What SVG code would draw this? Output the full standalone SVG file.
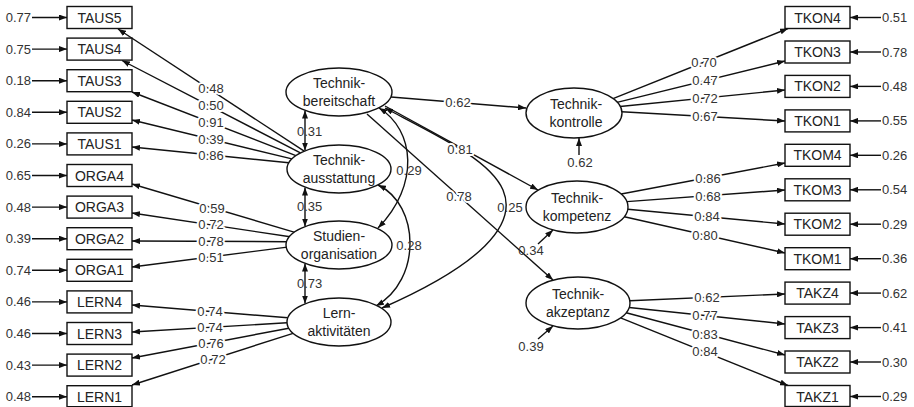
<svg xmlns="http://www.w3.org/2000/svg" width="914" height="407" viewBox="0 0 914 407">
<style>
.ln{fill:none;stroke:#111;stroke-width:1.4}
.a{marker-end:url(#ah)}
.b{marker-start:url(#ah);marker-end:url(#ah)}
.box{fill:#fff;stroke:#111;stroke-width:1.4}
.lat{fill:#fff;stroke:#111;stroke-width:1.4}
.t{font-family:"Liberation Sans",Arial,sans-serif;font-size:14px;fill:#222;text-anchor:middle}
.n{font-family:"Liberation Sans",Arial,sans-serif;font-size:13px;fill:#333}
.h{paint-order:stroke;stroke:#fff;stroke-width:4px;stroke-linejoin:round;text-anchor:middle}
.m{text-anchor:middle}
.e{text-anchor:end}
</style>
<defs>
<marker id="ah" viewBox="0 0 8 6" refX="8" refY="3" markerWidth="8" markerHeight="6" markerUnits="userSpaceOnUse" orient="auto-start-reverse">
<path d="M0,0 L8,3 L0,6 z" fill="#111"/>
</marker>
</defs>
<rect width="914" height="407" fill="#fff"/>

<g id="connectors">
<!-- left error arrows -->
<line class="ln a" x1="32" y1="17.5" x2="67" y2="17.5"/>
<line class="ln a" x1="32" y1="49.1" x2="67" y2="49.1"/>
<line class="ln a" x1="32" y1="80.7" x2="67" y2="80.7"/>
<line class="ln a" x1="32" y1="112.3" x2="67" y2="112.3"/>
<line class="ln a" x1="32" y1="143.9" x2="67" y2="143.9"/>
<line class="ln a" x1="32" y1="175.5" x2="67" y2="175.5"/>
<line class="ln a" x1="32" y1="207.1" x2="67" y2="207.1"/>
<line class="ln a" x1="32" y1="238.7" x2="67" y2="238.7"/>
<line class="ln a" x1="32" y1="270.3" x2="67" y2="270.3"/>
<line class="ln a" x1="32" y1="301.9" x2="67" y2="301.9"/>
<line class="ln a" x1="32" y1="333.5" x2="67" y2="333.5"/>
<line class="ln a" x1="32" y1="365.1" x2="67" y2="365.1"/>
<line class="ln a" x1="32" y1="396.7" x2="67" y2="396.7"/>
<!-- right error arrows -->
<line class="ln a" x1="881" y1="17.5" x2="850" y2="17.5"/>
<line class="ln a" x1="881" y1="52" x2="850" y2="52"/>
<line class="ln a" x1="881" y1="86.4" x2="850" y2="86.4"/>
<line class="ln a" x1="881" y1="120.9" x2="850" y2="120.9"/>
<line class="ln a" x1="881" y1="155.3" x2="850" y2="155.3"/>
<line class="ln a" x1="881" y1="189.8" x2="850" y2="189.8"/>
<line class="ln a" x1="881" y1="224.2" x2="850" y2="224.2"/>
<line class="ln a" x1="881" y1="258.7" x2="850" y2="258.7"/>
<line class="ln a" x1="881" y1="293.1" x2="850" y2="293.1"/>
<line class="ln a" x1="881" y1="327.6" x2="850" y2="327.6"/>
<line class="ln a" x1="881" y1="362" x2="850" y2="362"/>
<line class="ln a" x1="881" y1="396.5" x2="850" y2="396.5"/>
<!-- left loadings -->
<line class="ln a" x1="304.2" y1="151.2" x2="118" y2="29"/>
<line class="ln a" x1="300.4" y1="152.9" x2="122" y2="60.5"/>
<line class="ln a" x1="295.9" y1="155.6" x2="132" y2="92"/>
<line class="ln a" x1="291.9" y1="158.9" x2="132" y2="120"/>
<line class="ln a" x1="288.8" y1="162.8" x2="132" y2="147"/>
<line class="ln a" x1="294.9" y1="232.3" x2="132" y2="184"/>
<line class="ln a" x1="290.1" y1="236.8" x2="132" y2="213"/>
<line class="ln a" x1="287.5" y1="241.7" x2="132" y2="241"/>
<line class="ln a" x1="287.2" y1="247.1" x2="132" y2="267"/>
<line class="ln a" x1="287.8" y1="317.8" x2="132" y2="305"/>
<line class="ln a" x1="287" y1="322.8" x2="132" y2="332"/>
<line class="ln a" x1="288.8" y1="328.2" x2="132" y2="358"/>
<line class="ln a" x1="293.1" y1="333.3" x2="132" y2="385"/>
<!-- right loadings -->
<line class="ln a" x1="613" y1="98.7" x2="788" y2="28.5"/>
<line class="ln a" x1="617" y1="102.4" x2="785" y2="61"/>
<line class="ln a" x1="620" y1="106.5" x2="785" y2="90"/>
<line class="ln a" x1="621.5" y1="111.7" x2="785" y2="121"/>
<line class="ln a" x1="621.2" y1="194" x2="785" y2="163"/>
<line class="ln a" x1="626.9" y1="201.6" x2="785" y2="190"/>
<line class="ln a" x1="627.8" y1="209.3" x2="785" y2="224"/>
<line class="ln a" x1="624.3" y1="216.7" x2="785" y2="253"/>
<line class="ln a" x1="629.8" y1="300.7" x2="785" y2="294"/>
<line class="ln a" x1="629.2" y1="307.5" x2="785" y2="324"/>
<line class="ln a" x1="626.2" y1="312.7" x2="785" y2="355"/>
<line class="ln a" x1="620.6" y1="317.9" x2="788" y2="385.5"/>
<!-- covariances -->
<line class="ln b" x1="305" y1="110.5" x2="305" y2="150.5"/>
<line class="ln b" x1="305" y1="187.5" x2="305" y2="226.5"/>
<line class="ln b" x1="305" y1="263.5" x2="305" y2="303.5"/>
<path class="ln b" d="M379,108 C415,130 420,185 378,228"/>
<path class="ln b" d="M378,185 C420,205 422,280 376,306"/>
<path class="ln b" d="M385,108 C440,137 490,160 503,190 C518,225 480,265 382,308"/>
<!-- structural paths -->
<line class="ln a" x1="391" y1="97" x2="526" y2="108"/>
<line class="ln a" x1="385" y1="106" x2="538" y2="190"/>
<line class="ln a" x1="367" y1="114" x2="553" y2="280"/>
<!-- disturbances -->
<line class="ln a" x1="579" y1="155" x2="579" y2="138"/>
<line class="ln a" x1="538" y1="244" x2="553" y2="230"/>
<line class="ln a" x1="538" y1="339" x2="553" y2="326"/>

<!-- labels -->
<text class="n e" x="31" y="22">0.77</text>
<text class="n e" x="31" y="53.6">0.75</text>
<text class="n e" x="31" y="85.2">0.18</text>
<text class="n e" x="31" y="116.8">0.84</text>
<text class="n e" x="31" y="148.4">0.26</text>
<text class="n e" x="31" y="180">0.65</text>
<text class="n e" x="31" y="211.6">0.48</text>
<text class="n e" x="31" y="243.2">0.39</text>
<text class="n e" x="31" y="274.8">0.74</text>
<text class="n e" x="31" y="306.4">0.46</text>
<text class="n e" x="31" y="338">0.46</text>
<text class="n e" x="31" y="369.6">0.43</text>
<text class="n e" x="31" y="401.2">0.48</text>
<text class="n" x="882" y="22">0.51</text>
<text class="n" x="882" y="56.5">0.78</text>
<text class="n" x="882" y="90.9">0.48</text>
<text class="n" x="882" y="125.4">0.55</text>
<text class="n" x="882" y="159.8">0.26</text>
<text class="n" x="882" y="194.3">0.54</text>
<text class="n" x="882" y="228.7">0.29</text>
<text class="n" x="882" y="263.2">0.36</text>
<text class="n" x="882" y="297.6">0.62</text>
<text class="n" x="882" y="332.1">0.41</text>
<text class="n" x="882" y="366.5">0.30</text>
<text class="n" x="882" y="401">0.29</text>
<text class="n h" x="211" y="93">0.48</text>
<text class="n h" x="211" y="110">0.50</text>
<text class="n h" x="211" y="127">0.91</text>
<text class="n h" x="211" y="143.5">0.39</text>
<text class="n h" x="211" y="159.5">0.86</text>
<text class="n h" x="212" y="212.5">0.59</text>
<text class="n h" x="211" y="229">0.72</text>
<text class="n h" x="211" y="245.8">0.78</text>
<text class="n h" x="211" y="261.5">0.51</text>
<text class="n h" x="210" y="316">0.74</text>
<text class="n h" x="210" y="332">0.74</text>
<text class="n h" x="211" y="347.8">0.76</text>
<text class="n h" x="213" y="364">0.72</text>
<text class="n h" x="704" y="66.5">0.70</text>
<text class="n h" x="705" y="85">0.47</text>
<text class="n h" x="705" y="102.5">0.72</text>
<text class="n h" x="705" y="121">0.67</text>
<text class="n h" x="708" y="183">0.86</text>
<text class="n h" x="708" y="200.5">0.68</text>
<text class="n h" x="707" y="221">0.84</text>
<text class="n h" x="705" y="239.5">0.80</text>
<text class="n h" x="707" y="302">0.62</text>
<text class="n h" x="705" y="320">0.77</text>
<text class="n h" x="705" y="338.5">0.83</text>
<text class="n h" x="705" y="356">0.84</text>
<text class="n h" x="458" y="107">0.62</text>
<text class="n h" x="460" y="154">0.81</text>
<text class="n h" x="459" y="201">0.78</text>
<text class="n m" x="580" y="167">0.62</text>
<text class="n m" x="531" y="255">0.34</text>
<text class="n m" x="531" y="351">0.39</text>
<text class="n" x="297" y="136">0.31</text>
<text class="n" x="297" y="211">0.35</text>
<text class="n" x="297" y="288">0.73</text>
<text class="n m" x="409" y="175">0.29</text>
<text class="n m" x="409" y="250">0.28</text>
<text class="n m" x="510" y="212">0.25</text>
</g>

<!-- latent variables -->
<g id="technik-bereitschaft"><ellipse class="lat" cx="339" cy="92" rx="53" ry="24"/><text class="t" x="339" y="88">Technik-</text><text class="t" x="339" y="105.5">bereitschaft</text></g>
<g id="technik-ausstattung"><ellipse class="lat" cx="339" cy="169" rx="52" ry="24"/><text class="t" x="339" y="165">Technik-</text><text class="t" x="339" y="182.5">ausstattung</text></g>
<g id="studienorganisation"><ellipse class="lat" cx="339" cy="245" rx="53" ry="24"/><text class="t" x="339" y="241">Studien-</text><text class="t" x="339" y="258.5">organisation</text></g>
<g id="lernaktivitaeten"><ellipse class="lat" cx="339" cy="322" rx="52" ry="24"/><text class="t" x="339" y="318">Lern-</text><text class="t" x="339" y="335.5">aktivitäten</text></g>
<g id="technik-kontrolle"><ellipse class="lat" cx="574" cy="113" rx="48" ry="25"/><text class="t" x="576" y="109">Technik-</text><text class="t" x="576" y="126.5">kontrolle</text></g>
<g id="technik-kompetenz"><ellipse class="lat" cx="577" cy="207" rx="51" ry="26"/><text class="t" x="577" y="203">Technik-</text><text class="t" x="577" y="220.5">kompetenz</text></g>
<g id="technik-akzeptanz"><ellipse class="lat" cx="578" cy="303" rx="52" ry="26"/><text class="t" x="578" y="299">Technik-</text><text class="t" x="578" y="316.5">akzeptanz</text></g>

<!-- left indicators -->
<g id="TAUS5"><rect class="box" x="67" y="6.5" width="65" height="22"/><text class="t" x="99.5" y="22.5">TAUS5</text></g>
<g id="TAUS4"><rect class="box" x="67" y="38.1" width="65" height="22"/><text class="t" x="99.5" y="54.1">TAUS4</text></g>
<g id="TAUS3"><rect class="box" x="67" y="69.7" width="65" height="22"/><text class="t" x="99.5" y="85.7">TAUS3</text></g>
<g id="TAUS2"><rect class="box" x="67" y="101.3" width="65" height="22"/><text class="t" x="99.5" y="117.3">TAUS2</text></g>
<g id="TAUS1"><rect class="box" x="67" y="132.9" width="65" height="22"/><text class="t" x="99.5" y="148.9">TAUS1</text></g>
<g id="ORGA4"><rect class="box" x="67" y="164.5" width="65" height="22"/><text class="t" x="99.5" y="180.5">ORGA4</text></g>
<g id="ORGA3"><rect class="box" x="67" y="196.1" width="65" height="22"/><text class="t" x="99.5" y="212.1">ORGA3</text></g>
<g id="ORGA2"><rect class="box" x="67" y="227.7" width="65" height="22"/><text class="t" x="99.5" y="243.7">ORGA2</text></g>
<g id="ORGA1"><rect class="box" x="67" y="259.3" width="65" height="22"/><text class="t" x="99.5" y="275.3">ORGA1</text></g>
<g id="LERN4"><rect class="box" x="67" y="290.9" width="65" height="22"/><text class="t" x="99.5" y="306.9">LERN4</text></g>
<g id="LERN3"><rect class="box" x="67" y="322.5" width="65" height="22"/><text class="t" x="99.5" y="338.5">LERN3</text></g>
<g id="LERN2"><rect class="box" x="67" y="354.1" width="65" height="22"/><text class="t" x="99.5" y="370.1">LERN2</text></g>
<g id="LERN1"><rect class="box" x="67" y="385.7" width="65" height="21"/><text class="t" x="99.5" y="401.5">LERN1</text></g>

<!-- right indicators -->
<g id="TKON4"><rect class="box" x="785" y="6.5" width="65" height="22"/><text class="t" x="817.5" y="22.5">TKON4</text></g>
<g id="TKON3"><rect class="box" x="785" y="41" width="65" height="22"/><text class="t" x="817.5" y="57">TKON3</text></g>
<g id="TKON2"><rect class="box" x="785" y="75.4" width="65" height="22"/><text class="t" x="817.5" y="91.4">TKON2</text></g>
<g id="TKON1"><rect class="box" x="785" y="109.9" width="65" height="22"/><text class="t" x="817.5" y="125.9">TKON1</text></g>
<g id="TKOM4"><rect class="box" x="785" y="144.3" width="65" height="22"/><text class="t" x="817.5" y="160.3">TKOM4</text></g>
<g id="TKOM3"><rect class="box" x="785" y="178.8" width="65" height="22"/><text class="t" x="817.5" y="194.8">TKOM3</text></g>
<g id="TKOM2"><rect class="box" x="785" y="213.2" width="65" height="22"/><text class="t" x="817.5" y="229.2">TKOM2</text></g>
<g id="TKOM1"><rect class="box" x="785" y="247.7" width="65" height="22"/><text class="t" x="817.5" y="263.7">TKOM1</text></g>
<g id="TAKZ4"><rect class="box" x="785" y="282.1" width="65" height="22"/><text class="t" x="817.5" y="298.1">TAKZ4</text></g>
<g id="TAKZ3"><rect class="box" x="785" y="316.6" width="65" height="22"/><text class="t" x="817.5" y="332.6">TAKZ3</text></g>
<g id="TAKZ2"><rect class="box" x="785" y="351" width="65" height="22"/><text class="t" x="817.5" y="367">TAKZ2</text></g>
<g id="TAKZ1"><rect class="box" x="785" y="385.5" width="65" height="21"/><text class="t" x="817.5" y="401.5">TAKZ1</text></g>
</svg>
